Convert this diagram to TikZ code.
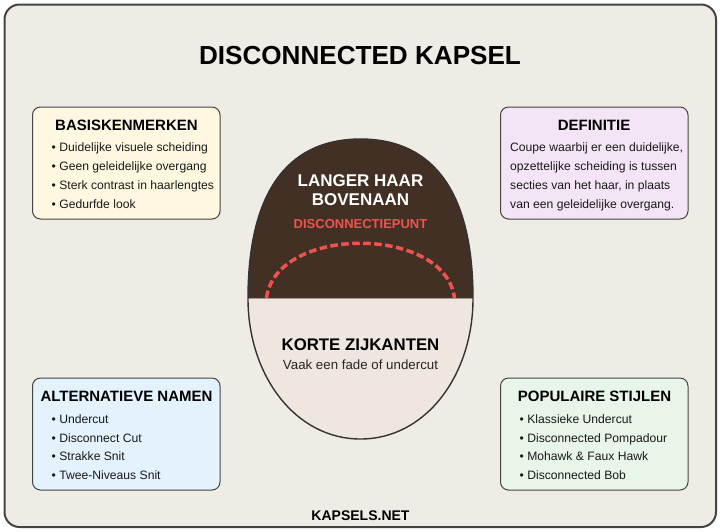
\documentclass[tikz,border=0pt]{standalone}
\usepackage{fontspec}
\setmainfont{Liberation Sans}
\definecolor{frameedge}{HTML}{444444}
\definecolor{headedge}{HTML}{333333}
\definecolor{framefill}{HTML}{EFECE6}
\definecolor{hairfill}{HTML}{423024}
\definecolor{skinfill}{HTML}{EFE6DF}
\definecolor{cutred}{HTML}{EF5350}
\definecolor{bgA}{HTML}{FFF8E1}
\definecolor{bgB}{HTML}{F3E5F5}
\definecolor{bgC}{HTML}{E3F2FD}
\definecolor{bgD}{HTML}{E8F5E9}
\tikzset{
  x=1pt,y=-1pt,
  infobox/.style={draw=frameedge,line width=1pt,rounded corners=8pt},
  headtxt/.style={anchor=base,inner sep=0pt,font=\fontsize{15}{15}\selectfont\bfseries,text=black},
  itemtxt/.style={anchor=base west,inner sep=0pt,font=\fontsize{12.15}{13}\selectfont,text=black!90},
  headline/.style={anchor=base,inner sep=0pt,font=\fontsize{17}{17}\selectfont\bfseries},
}
\begin{document}
\begin{tikzpicture}
\useasboundingbox (0,0) rectangle (720,531);
\fill[white] (0,0) rectangle (720,531);
\draw[draw=frameedge,fill=framefill,line width=2pt,rounded corners=15pt] (4.5,4.5) rectangle (716,527);
\node[anchor=base,inner sep=0pt,font=\fontsize{26.1}{27}\selectfont\bfseries] (title) at (360,64) {DISCONNECTED KAPSEL};
% boxes
\draw[infobox,fill=bgA] (32.5,107) rectangle (220,219);
\draw[infobox,fill=bgB] (500.5,107) rectangle (688,219);
\draw[infobox,fill=bgC] (32.5,378) rectangle (220,490);
\draw[infobox,fill=bgD] (500.5,378) rectangle (688,490);
% box 1
\node[headtxt] (h1) at (126.5,130) {BASISKENMERKEN};
\node[itemtxt] (a1) at (51.5,151) {• Duidelijke visuele scheiding};
\node[itemtxt] (a2) at (51.5,170) {• Geen geleidelijke overgang};
\node[itemtxt] (a3) at (51.5,189) {• Sterk contrast in haarlengtes};
\node[itemtxt] (a4) at (51.5,208) {• Gedurfde look};
% box 2
\node[headtxt] (h2) at (594,130) {DEFINITIE};
\node[itemtxt] (b1) at (510,151) {Coupe waarbij er een duidelijke,};
\node[itemtxt] (b2) at (510,170) {opzettelijke scheiding is tussen};
\node[itemtxt] (b3) at (510,189) {secties van het haar, in plaats};
\node[itemtxt] (b4) at (510,208) {van een geleidelijke overgang.};
% box 3
\node[headtxt] (h3) at (126.5,401) {ALTERNATIEVE NAMEN};
\node[itemtxt] (c1) at (51.5,423) {• Undercut};
\node[itemtxt] (c2) at (51.5,442) {• Disconnect Cut};
\node[itemtxt] (c3) at (51.5,460) {• Strakke Snit};
\node[itemtxt] (c4) at (51.5,479) {• Twee-Niveaus Snit};
% box 4
\node[headtxt] (h4) at (594.5,401) {POPULAIRE STIJLEN};
\node[itemtxt] (d1) at (519.5,423) {• Klassieke Undercut};
\node[itemtxt] (d2) at (519.5,442) {• Disconnected Pompadour};
\node[itemtxt] (d3) at (519.5,460) {• Mohawk \& Faux Hawk};
\node[itemtxt] (d4) at (519.5,479) {• Disconnected Bob};
% head
\fill[hairfill] (248,298.5) .. controls (248,181) and (296,139) .. (360.5,139) .. controls (425,139) and (473,181) .. (473,298.5) -- cycle;
\fill[skinfill] (248,298.5) .. controls (248,375) and (295,439) .. (360.5,439) .. controls (426,439) and (473,375) .. (473,298.5) -- cycle;
\draw[headedge,line width=1.4pt] (248,298.5) .. controls (248,181) and (296,139) .. (360.5,139) .. controls (425,139) and (473,181) .. (473,298.5) .. controls (473,375) and (426,439) .. (360.5,439) .. controls (295,439) and (248,375) .. cycle;
\draw[cutred,line width=3.5pt,dash pattern=on 7.5pt off 3.5pt] (266.5,298) .. controls (276,225) and (445,225) .. (454.5,298);
\node[headline,text=white] (top1) at (360.5,186) {LANGER HAAR};
\node[headline,text=white] (top2) at (360.5,205) {BOVENAAN};
\node[anchor=base,inner sep=0pt,font=\fontsize{13}{13}\selectfont\bfseries,text=cutred] (dp) at (360.5,228.5) {DISCONNECTIEPUNT};
\node[headline,text=black,font=\fontsize{16.8}{17}\selectfont\bfseries] (low1) at (360.5,350) {KORTE ZIJKANTEN};
\node[anchor=base,inner sep=0pt,font=\fontsize{13.3}{14}\selectfont,text=black!85] (low2) at (360.5,369) {Vaak een fade of undercut};
\node[anchor=base,inner sep=0pt,font=\fontsize{14}{14}\selectfont\bfseries] (foot) at (360.5,520) {KAPSELS.NET};
\end{tikzpicture}
\end{document}
